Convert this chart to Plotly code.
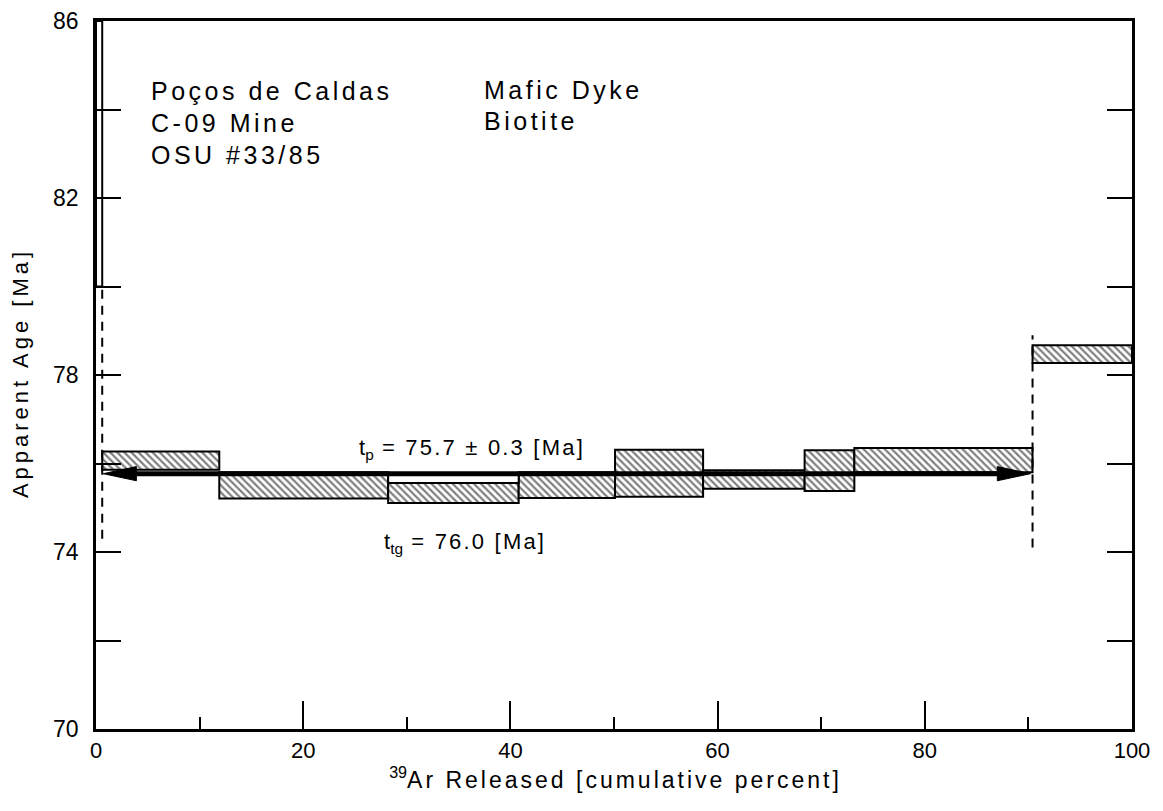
import plotly.graph_objects as go

# ---------------- data ----------------
step_edges = [0.0, 0.6, 11.9, 28.2, 40.8, 50.1, 58.6, 68.4, 73.2, 90.4, 100.0]
step_low   = [80.0, 75.86, 75.21, 75.11, 75.22, 75.25, 75.43, 75.38, 75.80, 78.27]
step_high  = [86.0, 76.27, 75.80, 75.77, 75.80, 76.31, 75.85, 76.30, 76.35, 78.67]
step_hatched = [False, True, True, True, True, True, True, True, True, True]

# upper part of step 4 left unhatched in the original
open_step_index = 3
open_step_low = 75.56

# dashed error extensions
error_x    = [0.6, 90.4]
error_low  = [74.3, 74.1]
error_high = [80.0, 78.9]

# plateau
plateau_start = 0.6
plateau_end = 90.4
plateau_level = 75.77

x_tick_vals = [0, 20, 40, 60, 80, 100]
x_minor_vals = [10, 30, 50, 70, 90]
y_tick_vals = [70, 74, 78, 82, 86]
y_minor_vals = [72, 76, 80, 84]

# ---------------- figure ----------------
FONT = "Liberation Sans, Arial, Helvetica, sans-serif"


def spaced(txt, ls):
    # letter-spaced text, last character kept as a plain text node
    return f'<span style="letter-spacing:{ls}px">{txt[:-1]}</span>{txt[-1]}'


centers = [(step_edges[i] + step_edges[i + 1]) / 2 for i in range(len(step_low))]
widths = [step_edges[i + 1] - step_edges[i] for i in range(len(step_low))]

fig = go.Figure()

hi = [i for i, h in enumerate(step_hatched) if h]
wi = [i for i, h in enumerate(step_hatched) if not h]

fig.add_trace(go.Bar(
    x=[centers[i] for i in hi],
    y=[step_high[i] - step_low[i] for i in hi],
    base=[step_low[i] for i in hi],
    width=[widths[i] for i in hi],
    marker=dict(color="white",
                pattern=dict(shape="\\", fgcolor="black", bgcolor="white",
                             size=5, solidity=0.45),
                line=dict(color="black", width=2)),
    showlegend=False, hoverinfo="skip"))

fig.add_trace(go.Bar(
    x=[centers[i] for i in wi],
    y=[step_high[i] - step_low[i] for i in wi],
    base=[step_low[i] for i in wi],
    width=[widths[i] for i in wi],
    marker=dict(color="white", line=dict(color="black", width=2)),
    showlegend=False, hoverinfo="skip"))

k = open_step_index
fig.add_trace(go.Bar(
    x=[centers[k]], y=[step_high[k] - open_step_low], base=[open_step_low],
    width=[widths[k]],
    marker=dict(color="white", line=dict(color="black", width=2)),
    showlegend=False, hoverinfo="skip"))

# dashed error lines
for ex, lo, hi_ in zip(error_x, error_low, error_high):
    fig.add_trace(go.Scatter(x=[ex, ex], y=[lo, hi_], mode="lines",
                             line=dict(color="black", width=2, dash="9px,7px"),
                             showlegend=False, hoverinfo="skip"))

# plateau line
fig.add_trace(go.Scatter(x=[plateau_start + 1.5, plateau_end - 1.5],
                         y=[plateau_level, plateau_level], mode="lines",
                         line=dict(color="black", width=5),
                         showlegend=False, hoverinfo="skip"))

head_len = 3.2
head_half = 0.16
for tip, direction in [(plateau_start + 0.1, 1), (plateau_end - 0.2, -1)]:
    base_x = tip + direction * head_len
    fig.add_trace(go.Scatter(
        x=[tip, base_x, base_x, tip],
        y=[plateau_level, plateau_level + head_half, plateau_level - head_half, plateau_level],
        mode="lines", fill="toself", fillcolor="black",
        line=dict(color="black", width=1),
        showlegend=False, hoverinfo="skip"))

annots = [
    dict(x=5.1, y=84.42, text=spaced("Poços de Caldas", 3.5)),
    dict(x=5.1, y=83.70, text=spaced("C-09 Mine", 3.5)),
    dict(x=5.1, y=82.98, text=spaced("OSU #33/85", 3.5)),
    dict(x=37.3, y=84.45, text=spaced("Mafic Dyke", 3.5)),
    dict(x=37.3, y=83.73, text=spaced("Biotite", 3.5)),
]
for a in annots:
    fig.add_annotation(x=a["x"], y=a["y"], text=a["text"], showarrow=False,
                       xanchor="left", yanchor="middle",
                       font=dict(family=FONT, size=25, color="black"))

fig.add_annotation(x=36.2, y=76.33,
                   text="t<sub>p</sub>" + spaced(" = 75.7 ± 0.3 [Ma]", 2.2),
                   showarrow=False, xanchor="center", yanchor="middle",
                   font=dict(family=FONT, size=22, color="black"))
fig.add_annotation(x=35.5, y=74.2,
                   text="t<sub>tg</sub>" + spaced(" = 76.0 [Ma]", 2.2),
                   showarrow=False, xanchor="center", yanchor="middle",
                   font=dict(family=FONT, size=22, color="black"))

fig.update_layout(
    width=1163, height=811,
    margin=dict(l=88, r=39, t=13, b=90),
    paper_bgcolor="white", plot_bgcolor="white",
    barmode="overlay",
    font=dict(family=FONT, color="black"),
    xaxis=dict(
        range=[0, 100], tickvals=x_tick_vals, ticks="inside", ticklen=28,
        tickwidth=1.5, tickcolor="black",
        minor=dict(tickvals=x_minor_vals, ticks="inside", ticklen=12,
                   tickwidth=1.5, tickcolor="black"),
        showline=True, linecolor="black", linewidth=2.5, mirror=True,
        showgrid=False, zeroline=False,
        tickfont=dict(family=FONT, size=22, color="black"),
        title=dict(text="<sup>39</sup>" + spaced("Ar Released [cumulative percent]", 3),
                   font=dict(family=FONT, size=23, color="black"), standoff=10),
        automargin=False,
    ),
    yaxis=dict(
        range=[70, 86], tickvals=y_tick_vals, ticks="inside", ticklen=25,
        tickwidth=1.5, tickcolor="black",
        minor=dict(tickvals=y_minor_vals, ticks="inside", ticklen=25,
                   tickwidth=1.5, tickcolor="black"),
        showline=True, linecolor="black", linewidth=2.5, mirror="ticks",
        showgrid=False, zeroline=False,
        tickfont=dict(family=FONT, size=23, color="black"),
        ticklabelstandoff=10,
        title=dict(text=spaced("Apparent Age [Ma]", 4),
                   font=dict(family=FONT, size=22, color="black"), standoff=26),
        automargin=False,
    ),
)

fig.write_html("out.html")
